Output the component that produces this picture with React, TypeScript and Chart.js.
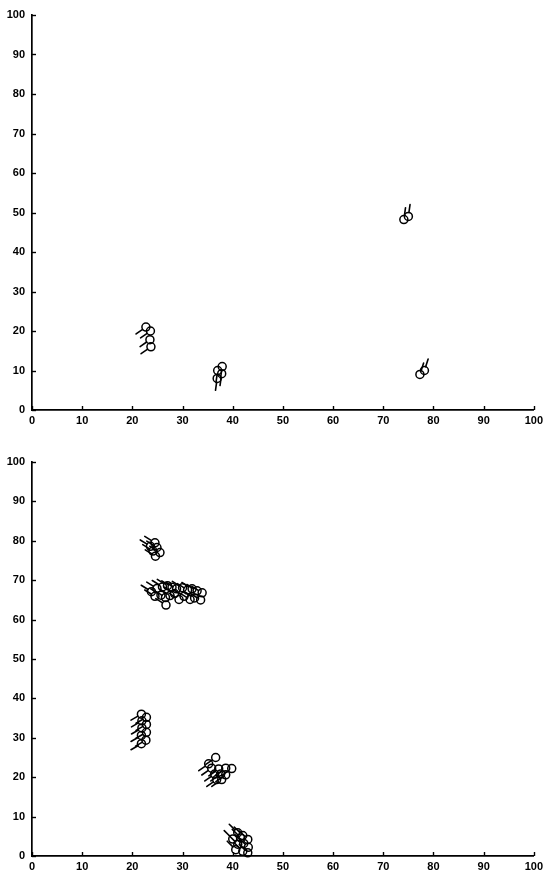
import React, { useEffect, useRef } from "react";
import { Chart, registerables } from "chart.js";

Chart.register(...registerables);

// Axis ticks
const tickValues = [0, 10, 20, 30, 40, 50, 60, 70, 80, 90, 100];

// Top panel: positions and tail directions (degrees, counter-clockwise from +x)
const topX = [22.7, 23.6, 23.5, 23.7, 37.0, 37.9, 36.9, 37.8, 74.1, 75.0, 77.3, 78.2];
const topY = [21.0, 20.0, 17.8, 16.0, 10.0, 11.0, 8.0, 9.2, 48.2, 49.0, 9.0, 10.0];
const topDir = [215, 215, 215, 215, 262, 262, 262, 262, 82, 82, 72, 72];

// Bottom panel
const botX = [
  // cluster A
  24.5, 23.6, 24.9, 24.1, 25.5, 24.6,
  // cluster B
  23.8, 24.9, 26.0, 27.0, 27.9, 28.8, 30.0, 31.0, 31.9, 32.9, 33.9,
  24.5, 25.7, 26.6, 27.5, 28.4, 29.3, 30.3, 31.5, 32.4, 33.6, 26.7,
  // cluster C
  21.8, 22.8, 21.9, 22.8, 21.9, 22.8, 21.8, 22.7, 21.8,
  // cluster D
  36.6, 35.2, 35.8, 37.2, 38.6, 39.8, 36.4, 37.6, 38.6, 36.8, 37.8,
  // cluster E
  41.0, 40.0, 42.0, 43.0, 41.0, 42.2, 43.1, 40.6, 42.0, 43.0, 41.6,
];
const botY = [
  79.5, 78.6, 78.3, 77.4, 77.0, 76.1,
  67.1, 67.9, 68.3, 68.6, 68.2, 67.8, 68.1, 67.5, 67.8, 67.3, 66.8,
  65.9, 66.2, 65.6, 66.1, 66.6, 65.1, 65.9, 65.1, 65.5, 65.0, 63.7,
  36.0, 35.2, 34.3, 33.4, 32.5, 31.4, 30.6, 29.4, 28.5,
  25.0, 23.4, 22.3, 22.1, 22.3, 22.2, 20.8, 20.8, 20.6, 19.4, 19.4,
  5.9, 4.3, 5.2, 4.2, 3.0, 3.2, 2.2, 1.6, 1.2, 0.8, 4.6,
];
const botDir = [
  148, 148, 148, 148, 148, 148,
  148, 148, 148, 148, 148, 148, 148, 148, 148, 148, 148,
  148, 148, 148, 148, 148, 148, 148, 148, 148, 148, 148,
  210, 210, 210, 210, 210, 210, 210, 210, 210,
  215, 215, 215, 215, 215, 215, 215, 215, 215, 215, 215,
  135, 135, 135, 135, 135, 135, 135, 135, 135, 135, 135,
];

const glyphPlugin = {
  id: "glyphTails",
  afterDatasetsDraw(chart: any) {
    const ctx = chart.ctx;
    chart.data.datasets.forEach((ds: any, di: number) => {
      const meta = chart.getDatasetMeta(di);
      const dirs: number[] = ds.dirs || [];
      ctx.save();
      ctx.strokeStyle = "#000";
      ctx.lineWidth = 1.6;
      ctx.lineCap = "round";
      meta.data.forEach((pt: any, i: number) => {
        const a = ((dirs[i] || 0) * Math.PI) / 180;
        const c = Math.cos(a);
        const s = Math.sin(a);
        const r = 4;
        const L = 12;
        ctx.beginPath();
        ctx.moveTo(pt.x + r * c, pt.y - r * s);
        ctx.lineTo(pt.x + L * c, pt.y - L * s);
        ctx.stroke();
      });
      ctx.restore();
    });
  },
};

const inwardTicks = {
  id: "inwardTicks",
  afterDraw(chart: any) {
    const ctx = chart.ctx;
    const xs = chart.scales.x;
    const ys = chart.scales.y;
    const area = chart.chartArea;
    ctx.save();
    ctx.strokeStyle = "#000";
    ctx.lineWidth = 1.4;
    tickValues.forEach((v) => {
      const px = Math.round(xs.getPixelForValue(v)) + 0.5;
      ctx.beginPath();
      ctx.moveTo(px, area.bottom);
      ctx.lineTo(px, area.bottom - 4);
      ctx.stroke();
      const py = Math.round(ys.getPixelForValue(v)) + 0.5;
      ctx.beginPath();
      ctx.moveTo(area.left, py);
      ctx.lineTo(area.left + 4, py);
      ctx.stroke();
    });
    ctx.restore();
  },
};

function makeConfig(xs: number[], ys: number[], dirs: number[], padTop: number, padBottom: number, xHeight: number): any {
  const font = { family: "'Liberation Sans', Arial, sans-serif", size: 11, weight: "bold" };
  return {
    type: "scatter",
    data: {
      datasets: [
        {
          data: xs.map((x, i) => ({ x, y: ys[i] })),
          dirs,
          pointRadius: 4,
          pointHoverRadius: 4,
          pointBorderWidth: 1.5,
          pointBorderColor: "#000",
          pointBackgroundColor: "rgba(0,0,0,0)",
          showLine: false,
          clip: false,
        },
      ],
    },
    options: {
      responsive: false,
      animation: false,
      devicePixelRatio: 1,
      layout: { padding: { left: 0, right: 9, top: padTop, bottom: padBottom } },
      plugins: { legend: { display: false }, tooltip: { enabled: false } },
      scales: {
        x: {
          type: "linear",
          min: 0,
          max: 100,
          afterBuildTicks: (scale: any) => {
            scale.ticks = tickValues.map((v) => ({ value: v }));
          },
          afterFit: (scale: any) => {
            scale.height = xHeight;
          },
          grid: { display: true, drawOnChartArea: false, drawTicks: false },
          border: { display: true, color: "#000", width: 1.7 },
          ticks: { color: "#000", padding: 4, maxRotation: 0, font },
        },
        y: {
          type: "linear",
          min: 0,
          max: 100,
          afterBuildTicks: (scale: any) => {
            scale.ticks = tickValues.map((v) => ({ value: v }));
          },
          afterFit: (scale: any) => {
            scale.width = 32;
          },
          grid: { display: true, drawOnChartArea: false, drawTicks: false },
          border: { display: true, color: "#000", width: 1.7 },
          ticks: { color: "#000", padding: 7, font },
        },
      },
    },
    plugins: [glyphPlugin, inwardTicks],
  };
}

function Panel({ xs, ys, dirs, top, padTop, padBottom, xHeight }: any) {
  const ref = useRef<HTMLCanvasElement | null>(null);
  useEffect(() => {
    if (!ref.current) return;
    const chart = new Chart(ref.current, makeConfig(xs, ys, dirs, padTop, padBottom, xHeight));
    return () => chart.destroy();
  }, []);
  return (
    <div style={{ position: "absolute", left: 0, top, width: 547, height: 437 }}>
      <canvas ref={ref} width={547} height={437} style={{ display: "block" }} />
    </div>
  );
}

export default function App() {
  return (
    <div style={{ position: "absolute", left: 0, top: 0, width: 547, height: 874, background: "#fff" }}>
      <Panel xs={topX} ys={topY} dirs={topDir} top={0} padTop={15} padBottom={7} xHeight={20} />
      <Panel xs={botX} ys={botY} dirs={botDir} top={437} padTop={25} padBottom={0} xHeight={18} />
    </div>
  );
}
